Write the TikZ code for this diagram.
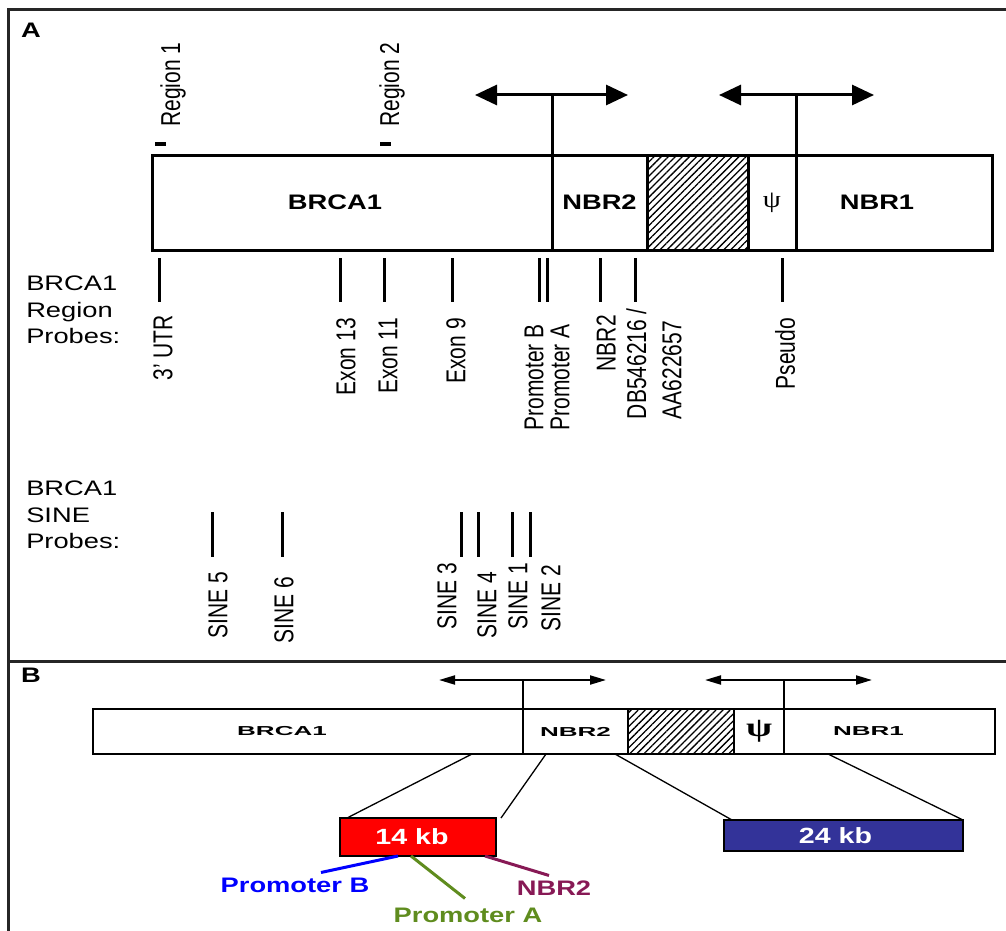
\documentclass[tikz,border=0pt]{standalone}
\usepackage{fontspec}
\setmainfont{Liberation Sans}
\newfontfamily\greekfont{Liberation Serif}
\usetikzlibrary{arrows.meta,patterns.meta,positioning}

\definecolor{probeblue}{RGB}{0,0,255}
\definecolor{probegreen}{RGB}{95,140,30}
\definecolor{probemaroon}{RGB}{135,25,85}
\definecolor{kbblue}{RGB}{51,51,153}

\newcommand{\wide}[2][1.3]{\scalebox{#1}[1]{#2}}

\tikzset{
  segA/.style={draw, line width=3pt, minimum height=95pt, inner sep=0pt, outer sep=0pt,
    anchor=north west, font=\fontsize{21}{21}\selectfont\bfseries},
  segB/.style={draw, line width=2.5pt, minimum height=45pt, inner sep=0pt, outer sep=0pt,
    anchor=north west, font=\fontsize{13}{13}\selectfont\bfseries},
  hatch/.style={pattern={Lines[angle=45,distance=5pt,line width=1.3pt]}},
  vlab/.style={rotate=90, yscale=1.3, anchor=east, inner sep=0pt, align=left,
    font=\fontsize{21}{20}\selectfont},
  hlab/.style={xscale=1.3, inner sep=0pt, align=left, font=\fontsize{21}{26.5}\selectfont},
  kbbox/.style={draw, line width=2.5pt, inner sep=0pt, outer sep=0pt, anchor=north west,
    text=white, font=\fontsize{22}{22}\selectfont\bfseries},
  probe/.style={line width=3pt},
  zoomline/.style={line width=1.3pt},
  tssA/.style={line width=3pt, {Triangle[length=22pt,width=20pt]}-{Triangle[length=22pt,width=20pt]}},
  tssB/.style={line width=2pt, {Triangle[length=16pt,width=9pt]}-{Triangle[length=16pt,width=9pt]}},
}

\begin{document}
\begin{tikzpicture}[x=1pt,y=-1pt]
\useasboundingbox (0,0) rectangle (1006,931);
% frame
\draw[line width=3pt, black!85] (1006,10) -- (8,10) -- (8,931);
\draw[line width=3pt, black!85] (8,661) -- (1006,661);
\node[hlab, font=\fontsize{21}{21}\selectfont\bfseries] (labA) at (31,30) {A};
\node[hlab, font=\fontsize{21}{21}\selectfont\bfseries] (labB) at (31,675) {B};

% A: gene map
\node[segA, minimum width=400pt] (brcaA) at (152,155) {\wide{BRCA1}\hspace*{34pt}};
\node[segA, minimum width=95pt, right=0pt of brcaA] (nbrtwoA) {\wide{NBR2}};
\node[segA, hatch, minimum width=101pt, right=0pt of nbrtwoA] (hatchA) {};
\node[segA, minimum width=48pt, right=0pt of hatchA, font=\fontsize{24}{24}\selectfont\greekfont] (psiA) {\wide[1.2]{ψ}};
\node[segA, minimum width=196pt, right=0pt of psiA] (nbroneA) {\wide{NBR1}\hspace*{34pt}};

\coordinate (tssA1) at ([yshift=60pt]brcaA.north east);
\coordinate (tssA2) at ([yshift=60pt]nbroneA.north west);
\draw[line width=3pt] (brcaA.north east) -- (tssA1);
\draw[line width=3pt] (nbroneA.north west) -- (tssA2);
\draw[tssA] ([xshift=-77pt]tssA1) -- ([xshift=76pt]tssA1);
\draw[tssA] ([xshift=-77pt]tssA2) -- ([xshift=78pt]tssA2);

% regions
\draw[line width=4pt] (155,144) -- (166,144);
\draw[line width=4pt] (380,144) -- (391,144);
\node[vlab, anchor=west] (regone) at (173,127) {Region 1};
\node[vlab, anchor=west] (regtwo) at (392,127) {Region 2};

% region probes
\node[hlab, anchor=north west] (regionhead) at (26,276) {BRCA1\\Region\\Probes:};
\foreach \px in {159,340,384,452,539,547,600,635,782}
  \draw[probe] (\px,258) -- (\px,302);
\foreach \px/\py/\txt [count=\i] in {163/315/3’ UTR, 346/318/Exon 13, 388/318/Exon 11,
    456/318/Exon 9, 606/315/NBR2, 785/318/Pseudo}
  \node[vlab] (regprobe\i) at (\px,\py) {\txt};
\node[vlab] (promprobe) at (547,324) {Promoter B\\Promoter A};
\node[vlab, font=\fontsize{21}{27}\selectfont] (estprobe) at (654,308) {DB546216 /\\AA622657};

% SINE probes
\node[hlab, anchor=north west] (sinehead) at (26,481) {BRCA1\\SINE\\Probes:};
\foreach \px in {212,282,461,478,512,530}
  \draw[probe] (\px,512) -- (\px,557);
\foreach \px/\py/\txt [count=\i] in {218/572/SINE 5, 284/577/SINE 6, 447/563/SINE 3,
    487/572/SINE 4, 518/563/SINE 1, 551/565/SINE 2}
  \node[vlab] (sineprobe\i) at (\px,\py) {\txt};

% B: gene map
\node[segB, minimum width=430pt] (brcaB) at (93,709) {\wide[2]{BRCA1}\hspace*{52pt}};
\node[segB, minimum width=105pt, right=0pt of brcaB] (nbrtwoB) {\wide[2]{NBR2}};
\node[segB, hatch, minimum width=106pt, right=0pt of nbrtwoB] (hatchB) {};
\node[segB, minimum width=50pt, right=0pt of hatchB, font=\fontsize{27}{27}\selectfont\greekfont\bfseries] (psiB) {\wide[1.4]{ψ}};
\node[segB, minimum width=211pt, right=0pt of psiB] (nbroneB) {\wide[2]{NBR1}\hspace*{42pt}};

\coordinate (tssB1) at ([yshift=29pt]nbrtwoB.north west);
\coordinate (tssB2) at ([yshift=29pt]nbroneB.north west);
\draw[line width=2pt] (nbrtwoB.north west) -- (tssB1);
\draw[line width=2pt] (nbroneB.north west) -- (tssB2);
\draw[tssB] ([xshift=-84pt]tssB1) -- ([xshift=83pt]tssB1);
\draw[tssB] ([xshift=-79pt]tssB2) -- ([xshift=88pt]tssB2);

% deletions
\node[kbbox, fill=red, minimum width=156pt, minimum height=38pt] (kbA) at (340,818) {\wide{14 kb}\hspace*{12pt}};
\node[kbbox, fill=kbblue, minimum width=239pt, minimum height=31pt] (kbB) at (724,820) {\wide{24 kb}\hspace*{16pt}};
\draw[zoomline] ([xshift=-51pt]brcaB.south east) -- ([xshift=7pt]kbA.north west);
\draw[zoomline] ([xshift=23pt]nbrtwoB.south west) -- ([xshift=5pt]kbA.north east);
\draw[zoomline] ([xshift=-13pt]nbrtwoB.south east) -- ([xshift=8pt]kbB.north west);
\draw[zoomline] ([xshift=44pt]nbroneB.south west) -- (kbB.north east);

\node[hlab, text=probeblue, font=\fontsize{21}{21}\selectfont\bfseries] (promB) at (295,885) {Promoter B};
\node[hlab, text=probegreen, font=\fontsize{21}{21}\selectfont\bfseries] (promA) at (468,915) {Promoter A};
\node[hlab, text=probemaroon, font=\fontsize{21}{21}\selectfont\bfseries] (nbrlab) at (554,888) {NBR2};
\draw[probe, probeblue] ([xshift=58pt]kbA.south west) -- ([xshift=26pt,yshift=5pt]promB.north);
\draw[probe, probegreen] ([xshift=71pt]kbA.south west) -- ([xshift=-3pt,yshift=9pt]promA.north);
\draw[probe, probemaroon] ([xshift=145pt]kbA.south west) -- ([xshift=-5pt,yshift=5pt]nbrlab.north);
\end{tikzpicture}
\end{document}
